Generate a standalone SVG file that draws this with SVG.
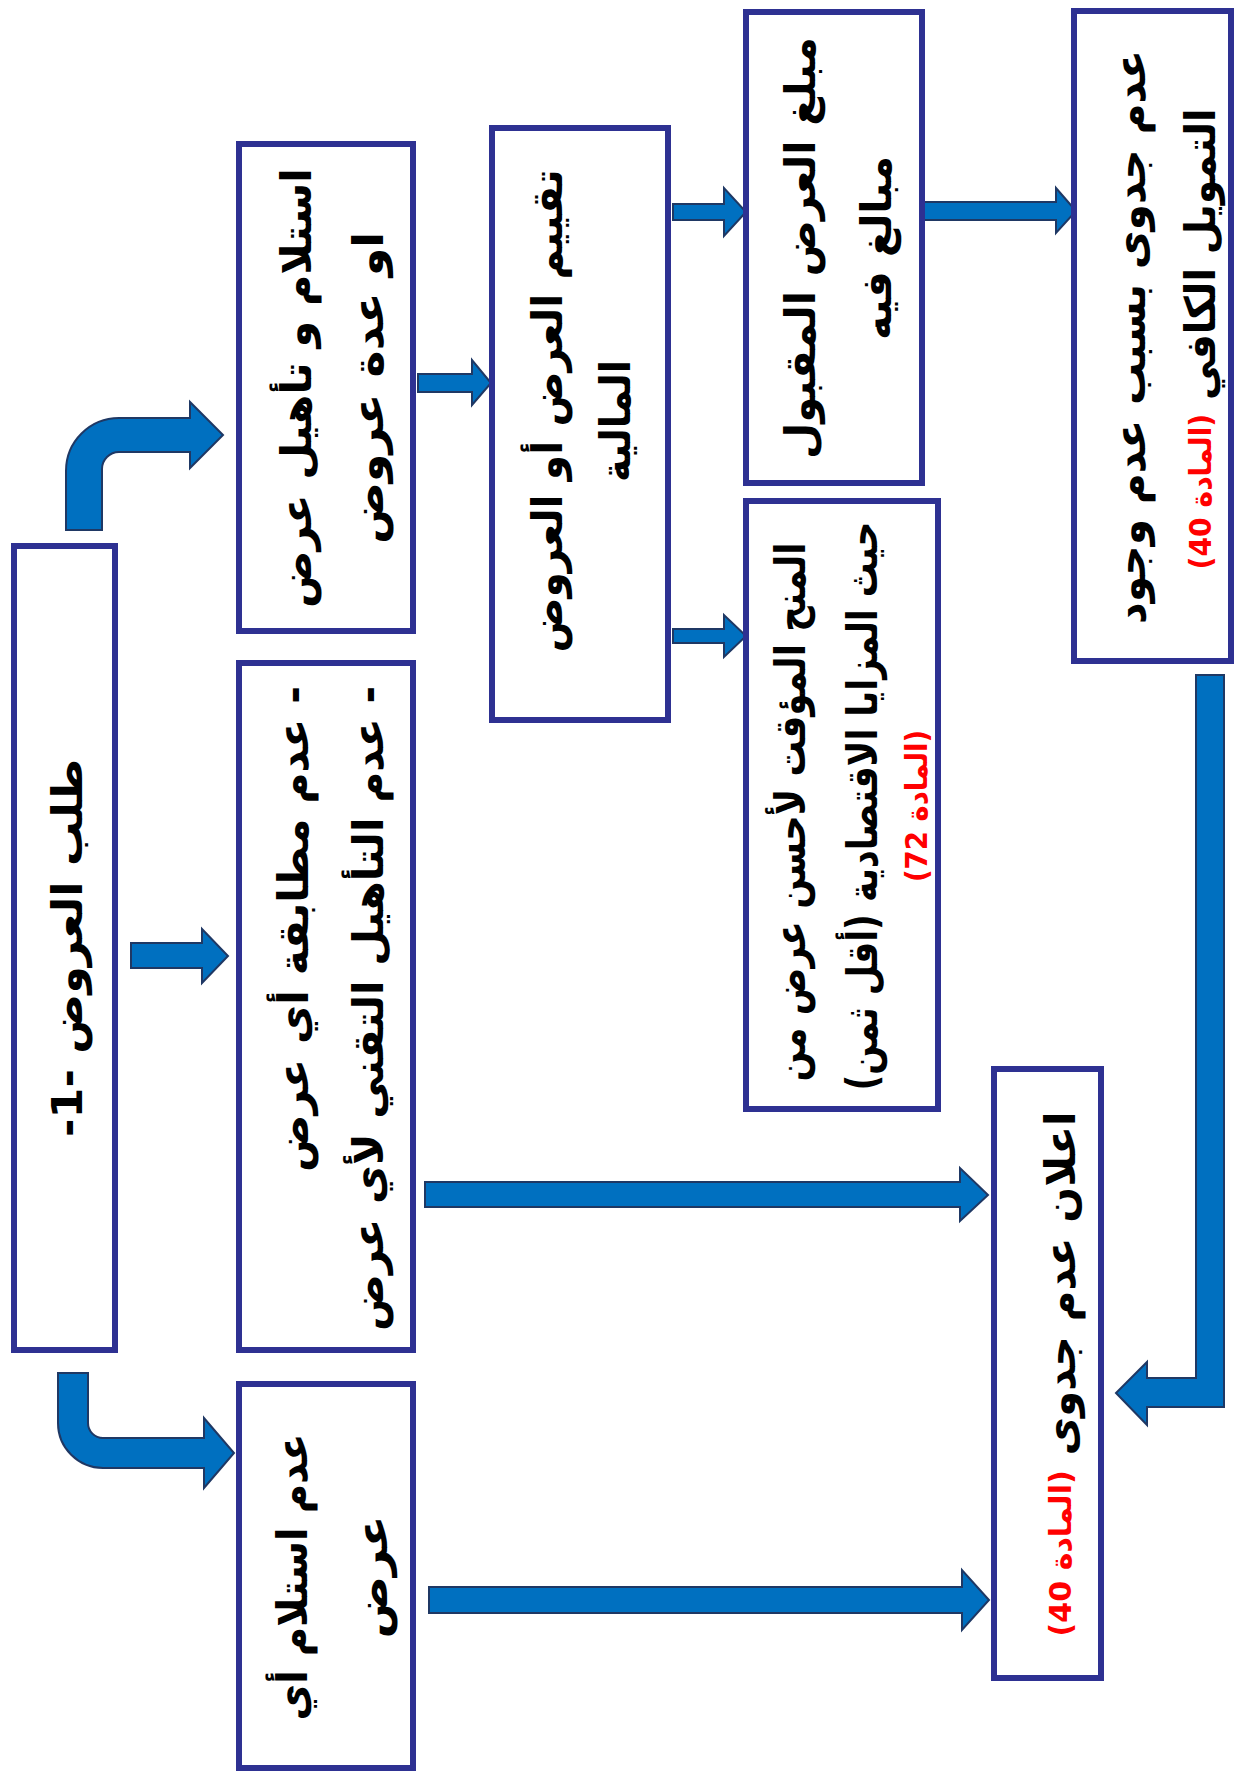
<svg xmlns="http://www.w3.org/2000/svg" width="1236" height="1783" viewBox="0 0 1236 1783">
<style>
.box{fill:#fff;stroke:#2E3192;stroke-width:6}
.arr{fill:#0070C0;stroke:#1F3864;stroke-width:2}
.t{font-family:'DejaVu Sans',sans-serif;font-weight:bold;font-size:42px;fill:#000;text-anchor:middle;dominant-baseline:central}
.s{text-anchor:start}
.r{fill:#FF0000;font-size:30px;dominant-baseline:central}
</style>
<rect width="1236" height="1783" fill="#fff"/>
<g id="connectors">
<path class="arr" d="M66 530 L66 471 A53 53 0 0 1 119 418 L190 418 L190 402 L223 435 L190 468 L190 452 L119 452 A17 17 0 0 0 102 469 L102 530 Z"/>
<path class="arr" d="M131 943 L202 943 L202 929 L228 956 L202 983 L202 968 L131 968 Z"/>
<path class="arr" d="M58 1373 L88 1373 L88 1423 A15 15 0 0 0 103 1438 L204 1438 L204 1418 L234 1453 L204 1488 L204 1468 L103 1468 A45 45 0 0 1 58 1423 Z"/>
<path class="arr" d="M418 374 L472 374 L472 360 L491 383 L472 405 L472 392 L418 392 Z"/>
<path class="arr" d="M673 204 L724 204 L724 188 L746 212 L724 236 L724 220 L673 220 Z"/>
<path class="arr" d="M673 629 L724 629 L724 615 L746 636 L724 657 L724 643 L673 643 Z"/>
<path class="arr" d="M921 202 L1056 202 L1056 188 L1076 211 L1056 233 L1056 220 L921 220 Z"/>
<path class="arr" d="M425 1182 L960 1182 L960 1168 L988 1195 L960 1221 L960 1207 L425 1207 Z"/>
<path class="arr" d="M429 1587 L962 1587 L962 1570 L989 1600 L962 1630 L962 1613 L429 1613 Z"/>
<path class="arr" d="M1196 675 L1224 675 L1224 1407 L1147 1407 L1147 1425 L1116 1393 L1147 1362 L1147 1378 L1196 1378 Z"/>
</g>
<g id="n-request">
<rect class="box" x="14" y="546" width="101" height="804"/>
<text class="t" direction="rtl" textLength="378" lengthAdjust="spacingAndGlyphs" transform="translate(67,948) rotate(-90)">طلب العروض -1-</text>
</g>
<g id="n-receive">
<rect class="box" x="239" y="144" width="174" height="487"/>
<text class="t" direction="rtl" textLength="440" lengthAdjust="spacingAndGlyphs" transform="translate(296,388) rotate(-90)">استلام و تأهيل عرض</text>
<text class="t" direction="rtl" textLength="312" lengthAdjust="spacingAndGlyphs" transform="translate(368,388) rotate(-90)">او عدة عروض</text>
</g>
<g id="n-nonconform">
<rect class="box" x="239" y="663" width="174" height="687"/>
<text class="t s" direction="rtl" textLength="486" lengthAdjust="spacingAndGlyphs" transform="translate(293,686) rotate(-90)">- عدم مطابقة أي عرض</text>
<text class="t s" direction="rtl" textLength="645" lengthAdjust="spacingAndGlyphs" transform="translate(368,686) rotate(-90)">- عدم التأهيل التقني لأي عرض</text>
</g>
<g id="n-noreceipt">
<rect class="box" x="239" y="1384" width="174" height="384"/>
<text class="t" direction="rtl" textLength="287" lengthAdjust="spacingAndGlyphs" transform="translate(292,1577) rotate(-90)">عدم استلام أي</text>
<text class="t" direction="rtl" textLength="123" lengthAdjust="spacingAndGlyphs" transform="translate(372,1577) rotate(-90)">عرض</text>
</g>
<g id="n-evaluate">
<rect class="box" x="492" y="128" width="176" height="592"/>
<text class="t" direction="rtl" textLength="483" lengthAdjust="spacingAndGlyphs" transform="translate(547,411) rotate(-90)">تقييم العرض أو العروض</text>
<text class="t" direction="rtl" textLength="122" lengthAdjust="spacingAndGlyphs" transform="translate(615,421) rotate(-90)">المالية</text>
</g>
<g id="n-excessive">
<rect class="box" x="746" y="12" width="176" height="471"/>
<text class="t" direction="rtl" textLength="422" lengthAdjust="spacingAndGlyphs" transform="translate(800,248) rotate(-90)">مبلغ العرض المقبول</text>
<text class="t" direction="rtl" textLength="184" lengthAdjust="spacingAndGlyphs" transform="translate(876,248) rotate(-90)">مبالغ فيه</text>
</g>
<g id="n-award">
<rect class="box" x="746" y="501" width="192" height="608"/>
<text class="t" direction="rtl" textLength="539" lengthAdjust="spacingAndGlyphs" transform="translate(790,812) rotate(-90)">المنح المؤقت لأحسن عرض من</text>
<text class="t" direction="rtl" textLength="569" lengthAdjust="spacingAndGlyphs" transform="translate(862,806) rotate(-90)">حيث المزايا الاقتصادية (أقل ثمن)</text>
<text class="t r" direction="rtl" textLength="152" lengthAdjust="spacingAndGlyphs" transform="translate(916,806) rotate(-90)">(المادة 72)</text>
</g>
<g id="n-nofunding">
<rect class="box" x="1074" y="11" width="157" height="650"/>
<text class="t" direction="rtl" textLength="574" lengthAdjust="spacingAndGlyphs" transform="translate(1130,337) rotate(-90)">عدم جدوى بسبب عدم وجود</text>
<text class="t" direction="rtl" textLength="461" lengthAdjust="spacingAndGlyphs" transform="translate(1200,339) rotate(-90)">التمويل الكافي <tspan class="r">(المادة 40)</tspan></text>
</g>
<g id="n-declare">
<rect class="box" x="994" y="1069" width="107" height="609"/>
<text class="t" direction="rtl" textLength="525" lengthAdjust="spacingAndGlyphs" transform="translate(1060,1374) rotate(-90)">اعلان عدم جدوى <tspan class="r">(المادة 40)</tspan></text>
</g>
</svg>
